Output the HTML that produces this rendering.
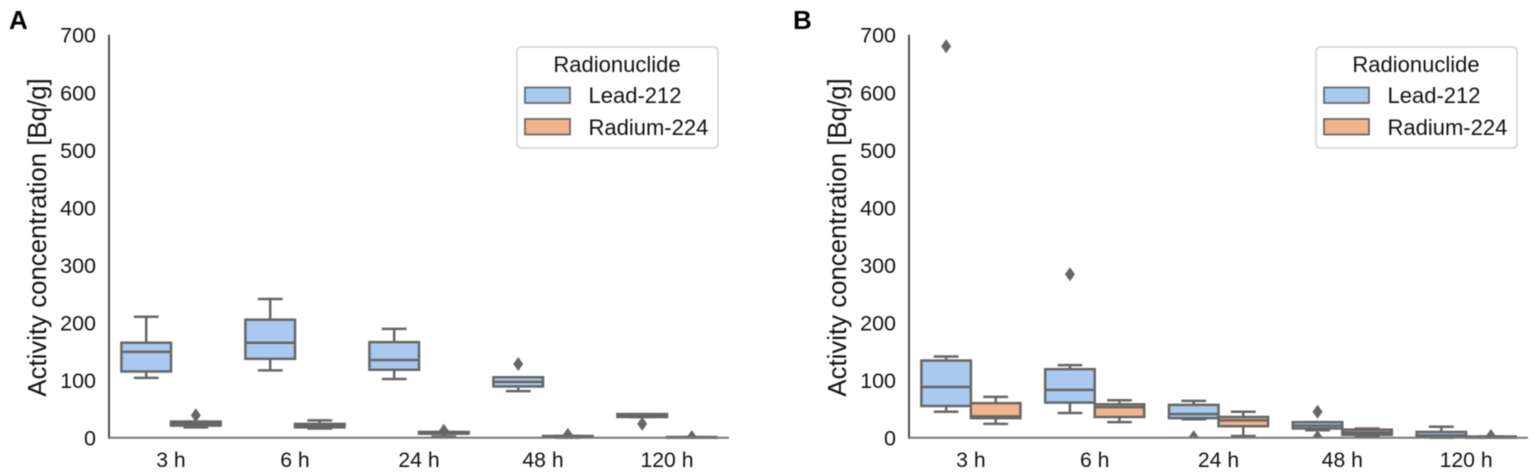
<!DOCTYPE html>
<html>
<head>
<meta charset="utf-8">
<style>
html,body{margin:0;padding:0;background:#fff;}
svg{display:block;font-family:"Liberation Sans",Arial,sans-serif;filter:blur(0.5px);}
</style>
</head>
<body>
<svg id="figure" xmlns="http://www.w3.org/2000/svg" width="1535" height="473" viewBox="0 0 1535 473">
  <defs>
    <clipPath id="clip-a"><rect x="109" y="0" width="620" height="438"/></clipPath>
    <clipPath id="clip-b"><rect x="909" y="0" width="619" height="438"/></clipPath>
  </defs>
  <rect width="1535" height="473" fill="#fff"/>
  <text x="9" y="29" font-size="26" font-weight="bold" fill="#000">A</text>
  <text x="793" y="29" font-size="26" font-weight="bold" fill="#000">B</text>
  <text transform="translate(46,237.5) rotate(-90)" font-size="25.8" text-anchor="middle" fill="#111">Activity concentration [Bq/g]</text>
  <text transform="translate(846,237.5) rotate(-90)" font-size="25.8" text-anchor="middle" fill="#111">Activity concentration [Bq/g]</text>
  <g id="panel-a"></g>
  <g id="panel-b"></g>

  <g>
    <rect x="517" y="47" width="201" height="101" rx="4" fill="#fff" stroke="#d0d0d0" stroke-width="1.5"/>
    <text x="617" y="72" font-size="22" text-anchor="middle" fill="#111">Radionuclide</text>
    <rect x="525" y="87.5" width="45" height="15.5" fill="#a9c9ee" stroke="#6a6a6a" stroke-width="1.8"/>
    <text x="588.5" y="103" font-size="22" fill="#111">Lead-212</text>
    <rect x="525" y="119" width="45" height="15.5" fill="#f2b48c" stroke="#6a6a6a" stroke-width="1.8"/>
    <text x="588.5" y="135" font-size="22" fill="#111">Radium-224</text>
  </g>
  <g>
    <rect x="1316" y="47" width="201" height="101" rx="4" fill="#fff" stroke="#d0d0d0" stroke-width="1.5"/>
    <text x="1416" y="72" font-size="22" text-anchor="middle" fill="#111">Radionuclide</text>
    <rect x="1324" y="87.5" width="45" height="15.5" fill="#a9c9ee" stroke="#6a6a6a" stroke-width="1.8"/>
    <text x="1387.5" y="103" font-size="22" fill="#111">Lead-212</text>
    <rect x="1324" y="119" width="45" height="15.5" fill="#f2b48c" stroke="#6a6a6a" stroke-width="1.8"/>
    <text x="1387.5" y="135" font-size="22" fill="#111">Radium-224</text>
  </g>
</svg>
<script>
// Shared axis data
const categories = ['3 h', '6 h', '24 h', '48 h', '120 h'];
const yTicks = [0, 100, 200, 300, 400, 500, 600, 700];

// Each row is one time point: [low whisker, Q1, median, Q3, high whisker]
const panelALead = [[104, 115, 149, 165, 210], [117, 137, 165, 205, 241], [102, 118, 135, 166, 189], [81, 89, 97, 105, 105], [36, 36, 39, 41, 41]];
const panelARadium = [[18, 21, 25, 28, 28], [16, 18, 21, 24, 30], [2, 7, 8, 10, 10], [0, 1, 2, 3, 3], [0, 0, 1, 1, 1]];
const panelBLead = [[45, 55, 88, 134, 141], [43, 61, 83, 119, 126], [32, 34, 41, 57, 64], [13, 16, 21, 27, 27], [0, 1, 4, 10, 19]];
const panelBRadium = [[24, 34, 37, 60, 71], [27, 36, 53, 58, 65], [3, 20, 30, 36, 45], [1, 5, 9, 14, 16], [0, 0, 1, 2, 2]];

// Outliers per time point
const panelALeadFliers = [[], [], [], [128], [24]];
const panelARadiumFliers = [[39], [], [12], [5], [1]];
const panelBLeadFliers = [[680], [284], [1], [45, 1], []];
const panelBRadiumFliers = [[], [], [], [], [3]];

const SVG_NS = 'http://www.w3.org/2000/svg';
const LINE = '#666666';
const LEAD_FILL = '#a9c9ee';
const RADIUM_FILL = '#f2b48c';

function makeEl(parent, tag, attrs) {
  const el = document.createElementNS(SVG_NS, tag);
  for (const k in attrs) el.setAttribute(k, attrs[k]);
  parent.appendChild(el);
  return el;
}

function yScale(v) { return 437.7 - v * (403 / 700); }

function drawPanel(rootId, clipId, left, right, lead, radium, leadFliers, radiumFliers) {
  const root = document.getElementById(rootId);
  const step = (right - left) / categories.length;
  const catX = i => left + step * (i + 0.5);
  const boxW = step * 0.4;

  // y tick labels
  yTicks.forEach(t => {
    const label = makeEl(root, 'text', {x: left - 13, y: yScale(t) + 8, 'font-size': 21.5, 'text-anchor': 'end', fill: '#111'});
    
    
    label.textContent = t;
  });
  // x tick labels
  categories.forEach((c, i) => {
    const label = makeEl(root, 'text', {x: catX(i), y: 467, 'font-size': 21.2, 'text-anchor': 'middle', fill: '#111'});
    
    
    label.textContent = c;
  });

  const seriesList = [
    {name: 'lead-212', rows: lead, fliers: leadFliers, fill: LEAD_FILL, offset: -0.5},
    {name: 'radium-224', rows: radium, fliers: radiumFliers, fill: RADIUM_FILL, offset: 0.5}
  ];

  seriesList.forEach(s => {
    s.rows.forEach((row, i) => {
      const cx = catX(i) + s.offset * boxW;
      const x0 = cx - boxW / 2;
      const x1 = cx + boxW / 2;
      const g = makeEl(root, 'g', {stroke: LINE, 'stroke-width': 2.5, fill: 'none'});
      
      
      makeEl(g, 'line', {x1: cx, x2: cx, y1: yScale(row[0]), y2: yScale(row[1])});
      makeEl(g, 'line', {x1: cx, x2: cx, y1: yScale(row[3]), y2: yScale(row[4])});
      makeEl(g, 'line', {x1: cx - boxW / 4, x2: cx + boxW / 4, y1: yScale(row[0]), y2: yScale(row[0])});
      makeEl(g, 'line', {x1: cx - boxW / 4, x2: cx + boxW / 4, y1: yScale(row[4]), y2: yScale(row[4])});
      makeEl(g, 'rect', {x: x0, y: yScale(row[3]), width: boxW, height: yScale(row[1]) - yScale(row[3]), fill: s.fill});
      makeEl(g, 'line', {x1: x0, x2: x1, y1: yScale(row[2]), y2: yScale(row[2])});
    });
  });

  // outliers, clipped at the axis
  const flierLayer = makeEl(root, 'g', {'clip-path': 'url(#' + clipId + ')'});
  
  
  seriesList.forEach(s => {
    s.fliers.forEach((vals, i) => {
      const cx = catX(i) + s.offset * boxW;
      vals.forEach(v => {
        const y = yScale(v);
        const d = makeEl(flierLayer, 'polygon', {points: (cx) + ',' + (y - 7) + ' ' + (cx + 5) + ',' + y + ' ' + cx + ',' + (y + 7) + ' ' + (cx - 5) + ',' + y, fill: '#666666'});
        
        
      });
    });
  });

  // spines
  const ySpine = makeEl(root, 'line', {x1: left, x2: left, y1: yScale(700), y2: yScale(0) + 1, stroke: '#4d4d4d', 'stroke-width': 2});
  
  
  const xSpine = makeEl(root, 'line', {x1: left, x2: right, y1: yScale(0), y2: yScale(0), stroke: '#777777', 'stroke-width': 2});
  
  
}

drawPanel('panel-a', 'clip-a', 109, 729, panelALead, panelARadium, panelALeadFliers, panelARadiumFliers);
drawPanel('panel-b', 'clip-b', 909, 1528, panelBLead, panelBRadium, panelBLeadFliers, panelBRadiumFliers);
</script>
</body>
</html>
